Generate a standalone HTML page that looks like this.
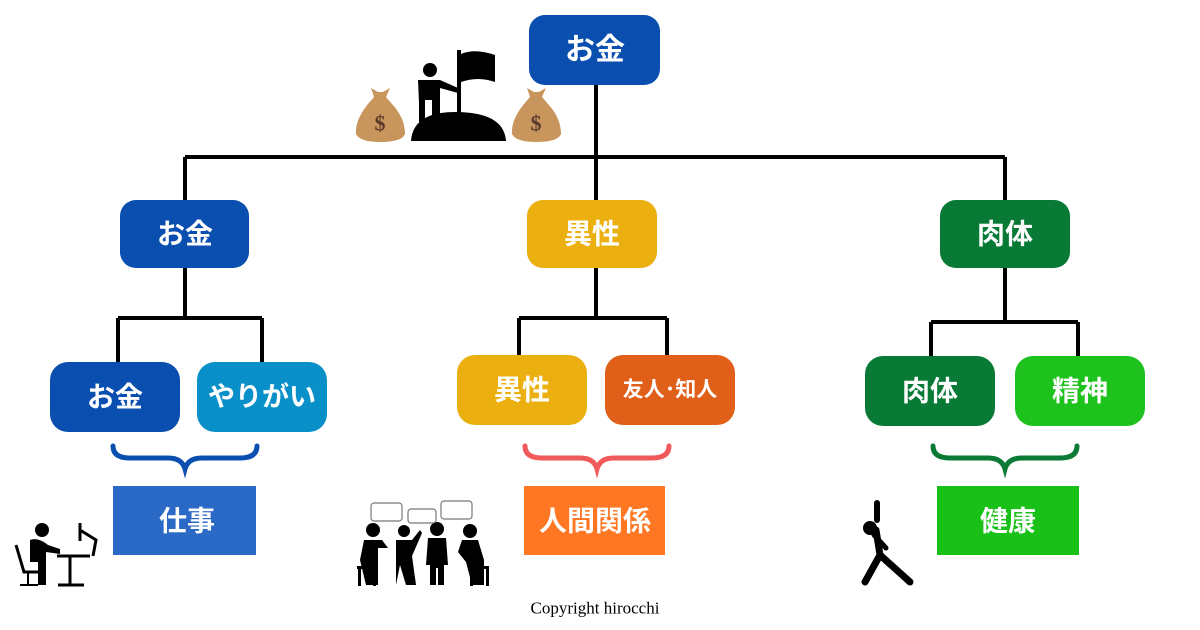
<!DOCTYPE html>
<html><head><meta charset="utf-8"><style>
html,body{margin:0;padding:0;background:#fff;}
svg{display:block}
text{font-family:"Liberation Sans","Noto Sans CJK JP",sans-serif;font-weight:bold;fill:#fff;text-anchor:middle;dominant-baseline:central}
</style></head><body>
<svg width="1200" height="630" viewBox="0 0 1200 630" xmlns="http://www.w3.org/2000/svg">
<g stroke="#000" stroke-width="4" fill="none">
<path d="M596 85V157M185 157H1005M185 157V200M596 157V200M1005 157V200"/>
<path d="M185 268V318M118 318H262M118 318V362M262 318V362"/>
<path d="M596 268V318M519 318H667M519 318V355M667 318V355"/>
<path d="M1005 268V322M931 322H1078M931 322V356M1078 322V356"/>
</g>
<g stroke-width="5" fill="none" stroke-linecap="round">
<path d="M113 446Q113 458 130 458H168Q182 458 185 469Q188 458 202 458H240Q257 458 257 446" stroke="#0a4fb0"/>
<path d="M525 446Q525 458 542 458H580Q594 458 597 469Q600 458 614 458H652Q669 458 669 446" stroke="#f05a5a"/>
<path d="M933 446Q933 458 950 458H988Q1002 458 1005 469Q1008 458 1022 458H1060Q1077 458 1077 446" stroke="#0b7a34"/>
</g>
<rect x="529" y="15" width="131" height="70" rx="16" fill="#0a4fb0"/><text x="595" y="50" font-size="30">お金</text>
<rect x="120" y="200" width="129" height="68" rx="16" fill="#0a4fb0"/><text x="185" y="234" font-size="28">お金</text>
<rect x="527" y="200" width="130" height="68" rx="16" fill="#ebb010"/><text x="592" y="234" font-size="28">異性</text>
<rect x="940" y="200" width="130" height="68" rx="16" fill="#087a36"/><text x="1005" y="234" font-size="28">肉体</text>
<rect x="50" y="362" width="130" height="70" rx="18" fill="#0a4fb0"/><text x="115" y="397" font-size="28">お金</text>
<rect x="197" y="362" width="130" height="70" rx="18" fill="#0a90c8"/><text x="262" y="397" font-size="27">やりがい</text>
<rect x="457" y="355" width="130" height="70" rx="18" fill="#ebb010"/><text x="522" y="390" font-size="28">異性</text>
<rect x="605" y="355" width="130" height="70" rx="18" fill="#e0601a"/><text x="670" y="390" font-size="21">友人･知人</text>
<rect x="865" y="356" width="130" height="70" rx="18" fill="#087a36"/><text x="930" y="391" font-size="28">肉体</text>
<rect x="1015" y="356" width="130" height="70" rx="18" fill="#1dc21d"/><text x="1080" y="391" font-size="28">精神</text>
<rect x="113" y="486" width="143" height="69" fill="#2a69c6"/><text x="187" y="521" font-size="28">仕事</text>
<rect x="524" y="486" width="141" height="69" fill="#ff7722"/><text x="595" y="521" font-size="28">人間関係</text>
<rect x="937" y="486" width="142" height="69" fill="#18c018"/><text x="1008" y="521" font-size="28">健康</text>
<text x="595" y="608" font-size="17" style="fill:#000;font-weight:normal;font-family:'Liberation Serif',serif">Copyright hirocchi</text>
<!-- top icon -->
<g fill="#000">
<path d="M411 141Q413 112 455 112Q504 112 506 141Z"/>
<rect x="457" y="50" width="4" height="70"/>
<path d="M461 54Q475 48 495 55V82Q478 76 461 82Z"/>
<circle cx="430" cy="70" r="7"/>
<path d="M418 80H440L458 88V93L440 88V120H432V100H425V122H419V103Z"/>
</g>
<g fill="#c8955c">
<path d="M378 92L371 88L374 97L368 104Q355 120 356 134Q360 142 380 142Q402 142 405 134Q405 118 392 104L386 97L390 88L383 92Z"/>
<path d="M534 92L527 88L530 97L524 104Q511 120 512 134Q516 142 536 142Q558 142 561 134Q561 118 548 104L542 97L546 88L539 92Z"/>
</g>
<text x="380" y="123" font-size="22" style="fill:#5a3a2a;font-family:'Liberation Serif',serif">$</text>
<text x="536" y="123" font-size="22" style="fill:#5a3a2a;font-family:'Liberation Serif',serif">$</text>
<!-- worker -->
<g fill="#000" stroke="#000">
<circle cx="42" cy="530" r="7" stroke="none"/>
<path d="M30 540Q38 537 48 545L60 549V554L46 552V585L38 585V562H30Z" stroke="none"/>
<path d="M16 545L24 572H40" stroke-width="3" fill="none"/>
<path d="M28 572V585M20 585H38" stroke-width="2" fill="none"/>
<path d="M57 556H90M70 556V585M58 585H84M80 523V541M80 530L96 540L93 556" stroke-width="3" fill="none"/>
</g>
<!-- group -->
<g fill="#000">
<circle cx="373" cy="530" r="7"/><path d="M364 540H382L388 548H378V585H366L360 560Z"/>
<circle cx="404" cy="531" r="6"/><path d="M396 540H412L420 530L422 533L412 556L416 585H406L400 565L396 585Z"/>
<circle cx="437" cy="529" r="7"/><path d="M428 538H446L448 565H444V585H438V568H436V585H430V565H426Z"/>
<circle cx="470" cy="531" r="7"/><path d="M462 540H478L484 560V585H472L466 562L458 552Z"/>
<rect x="357" y="566" width="20" height="3"/><rect x="358" y="566" width="3" height="20"/><rect x="373" y="566" width="3" height="20"/>
<rect x="469" y="566" width="20" height="3"/><rect x="470" y="566" width="3" height="20"/><rect x="486" y="566" width="3" height="20"/>
</g>
<g fill="#fff" stroke="#777" stroke-width="1.2">
<rect x="371" y="503" width="31" height="18" rx="3"/><rect x="408" y="509" width="28" height="14" rx="3"/><rect x="441" y="501" width="31" height="18" rx="3"/>
</g>
<!-- stretch -->
<g fill="#000" stroke="#000" stroke-linecap="round">
<circle cx="870" cy="528" r="7" stroke="none"/>
<path d="M877 520L877 503" stroke-width="6"/>
<path d="M876 530L880 555L865 582M880 555L910 582" stroke-width="7" fill="none"/>
<path d="M874 535L886 548" stroke-width="5"/>
</g>
</svg>
</body></html>
